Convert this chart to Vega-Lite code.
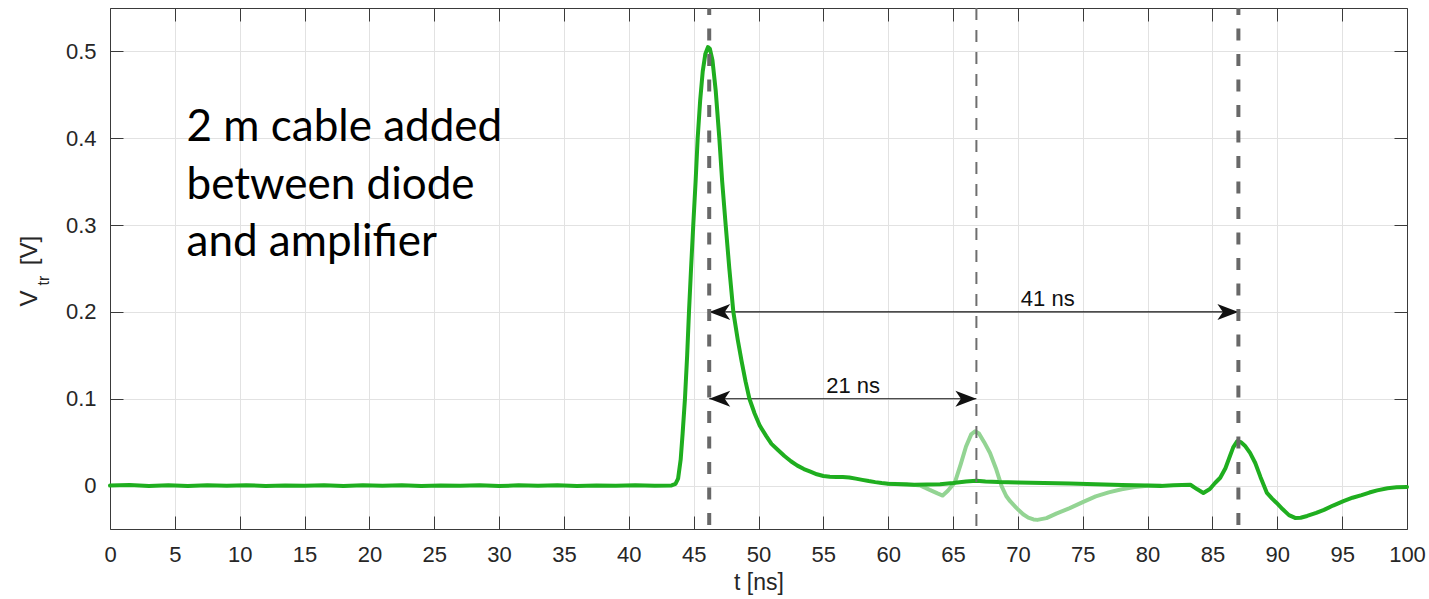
{
  "$schema": "https://vega.github.io/schema/vega-lite/v6.json",
  "width": 1297,
  "height": 521,
  "autosize": {"type": "none"},
  "padding": {"left": 110, "top": 8, "right": 22, "bottom": 70},
  "background": "white",
  "config": {
    "view": {"stroke": null},
    "font": "Liberation Sans",
    "axis": {
      "domainColor": "#3a3a3a",
      "domainWidth": 1,
      "tickColor": "#3a3a3a",
      "tickWidth": 1,
      "tickSize": -13,
      "gridColor": "#e2e2e2",
      "gridWidth": 1,
      "labelFont": "Liberation Sans",
      "labelFontSize": 22,
      "labelColor": "#262626",
      "labelFlush": false,
      "labelOverlap": false,
      "titleFont": "Liberation Sans",
      "titleFontSize": 23,
      "titleFontWeight": "normal",
      "titleColor": "#262626"
    }
  },
  "datasets": {
    "main": [
      {"t": 0, "v": 0}, {"t": 1.5, "v": 0.0006}, {"t": 3, "v": -0.0004}, {"t": 4.5, "v": 0.0003},
      {"t": 6, "v": -0.0005}, {"t": 7.5, "v": 0.0004}, {"t": 9, "v": -0.0002}, {"t": 10.5, "v": 0.0005},
      {"t": 12, "v": -0.0004}, {"t": 13.5, "v": 0.0002}, {"t": 15, "v": -0.0003}, {"t": 16.5, "v": 0.0004},
      {"t": 18, "v": -0.0005}, {"t": 19.5, "v": 0.0003}, {"t": 21, "v": -0.0002}, {"t": 22.5, "v": 0.0005},
      {"t": 24, "v": -0.0004}, {"t": 25.5, "v": 0.0002}, {"t": 27, "v": -0.0003}, {"t": 28.5, "v": 0.0004},
      {"t": 30, "v": -0.0005}, {"t": 31.5, "v": 0.0003}, {"t": 33, "v": -0.0002}, {"t": 34.5, "v": 0.0005},
      {"t": 36, "v": -0.0004}, {"t": 37.5, "v": 0.0002}, {"t": 39, "v": -0.0003}, {"t": 40.5, "v": 0.0004},
      {"t": 42, "v": -0.0003}, {"t": 43.3, "v": 0.0002},
      {"t": 43.6, "v": 0.002}, {"t": 43.8, "v": 0.008}, {"t": 44.0, "v": 0.03}, {"t": 44.15, "v": 0.06},
      {"t": 44.33, "v": 0.1}, {"t": 44.5, "v": 0.15}, {"t": 44.64, "v": 0.2}, {"t": 44.8, "v": 0.25},
      {"t": 44.97, "v": 0.3}, {"t": 45.15, "v": 0.35}, {"t": 45.31, "v": 0.4}, {"t": 45.5, "v": 0.443},
      {"t": 45.7, "v": 0.477}, {"t": 45.9, "v": 0.497}, {"t": 46.1, "v": 0.505}, {"t": 46.25, "v": 0.503},
      {"t": 46.45, "v": 0.49}, {"t": 46.7, "v": 0.455}, {"t": 46.98, "v": 0.4}, {"t": 47.2, "v": 0.35},
      {"t": 47.47, "v": 0.3}, {"t": 47.75, "v": 0.25}, {"t": 48.06, "v": 0.2}, {"t": 48.4, "v": 0.168},
      {"t": 48.7, "v": 0.143}, {"t": 49.0, "v": 0.12}, {"t": 49.3, "v": 0.1}, {"t": 49.7, "v": 0.083},
      {"t": 50.1, "v": 0.069}, {"t": 50.6, "v": 0.057}, {"t": 51.0, "v": 0.048}, {"t": 51.5, "v": 0.041},
      {"t": 52, "v": 0.034}, {"t": 52.5, "v": 0.028}, {"t": 53, "v": 0.023}, {"t": 53.5, "v": 0.019},
      {"t": 54, "v": 0.016}, {"t": 54.5, "v": 0.013}, {"t": 55, "v": 0.011}, {"t": 55.5, "v": 0.0102},
      {"t": 56, "v": 0.0099}, {"t": 56.5, "v": 0.0098}, {"t": 57, "v": 0.0094}, {"t": 57.5, "v": 0.008},
      {"t": 58, "v": 0.0066}, {"t": 58.5, "v": 0.0052}, {"t": 59, "v": 0.004}, {"t": 59.5, "v": 0.003},
      {"t": 60, "v": 0.0022}, {"t": 61, "v": 0.0015}, {"t": 62, "v": 0.001}, {"t": 63, "v": 0.0012},
      {"t": 64, "v": 0.0016}, {"t": 65, "v": 0.003}, {"t": 66, "v": 0.0048}, {"t": 66.8, "v": 0.0055},
      {"t": 67.5, "v": 0.0047}, {"t": 68.5, "v": 0.004}, {"t": 70, "v": 0.0035}, {"t": 72, "v": 0.003},
      {"t": 74, "v": 0.0024}, {"t": 76, "v": 0.0015}, {"t": 78, "v": 0.0008}, {"t": 80, "v": 0},
      {"t": 81, "v": -0.0005}, {"t": 82, "v": 0.0005}, {"t": 83.3, "v": 0.001}, {"t": 83.8, "v": -0.004},
      {"t": 84.3, "v": -0.0085}, {"t": 84.8, "v": -0.004}, {"t": 85.2, "v": 0.003}, {"t": 85.6, "v": 0.009},
      {"t": 86.0, "v": 0.02}, {"t": 86.35, "v": 0.034}, {"t": 86.6, "v": 0.044}, {"t": 86.9, "v": 0.051},
      {"t": 87.2, "v": 0.05}, {"t": 87.5, "v": 0.046}, {"t": 87.9, "v": 0.0376}, {"t": 88.3, "v": 0.026},
      {"t": 88.7, "v": 0.01}, {"t": 89.2, "v": -0.0085}, {"t": 89.6, "v": -0.015}, {"t": 89.95, "v": -0.02},
      {"t": 90.4, "v": -0.027}, {"t": 90.9, "v": -0.034}, {"t": 91.37, "v": -0.0372}, {"t": 91.8, "v": -0.037},
      {"t": 92.3, "v": -0.035}, {"t": 93.0, "v": -0.0315}, {"t": 93.6, "v": -0.028}, {"t": 94.3, "v": -0.023},
      {"t": 95.1, "v": -0.018}, {"t": 95.8, "v": -0.014}, {"t": 96.5, "v": -0.011}, {"t": 97.1, "v": -0.008},
      {"t": 97.7, "v": -0.0055}, {"t": 98.5, "v": -0.003}, {"t": 99.2, "v": -0.002}, {"t": 100, "v": -0.0015}
    ],
    "reflection": [
      {"t": 60, "v": 0.0022}, {"t": 61.5, "v": 0.0014}, {"t": 62.5, "v": 0.0}, {"t": 63.2, "v": -0.005},
      {"t": 63.8, "v": -0.009}, {"t": 64.2, "v": -0.0115}, {"t": 64.6, "v": -0.006}, {"t": 65.15, "v": 0.004},
      {"t": 65.6, "v": 0.025}, {"t": 66.0, "v": 0.045}, {"t": 66.4, "v": 0.059}, {"t": 66.7, "v": 0.0626},
      {"t": 67.0, "v": 0.06}, {"t": 67.4, "v": 0.05}, {"t": 67.85, "v": 0.0376}, {"t": 68.3, "v": 0.02},
      {"t": 68.75, "v": -0.001}, {"t": 69.1, "v": -0.012}, {"t": 69.4, "v": -0.018}, {"t": 69.9, "v": -0.026},
      {"t": 70.4, "v": -0.033}, {"t": 70.8, "v": -0.037}, {"t": 71.2, "v": -0.039}, {"t": 71.5, "v": -0.0395},
      {"t": 72.2, "v": -0.0375}, {"t": 73, "v": -0.032}, {"t": 74, "v": -0.026}, {"t": 75, "v": -0.019},
      {"t": 76, "v": -0.0125}, {"t": 77, "v": -0.0078}, {"t": 78, "v": -0.0042}, {"t": 79, "v": -0.0016},
      {"t": 80, "v": -0.0003}, {"t": 81, "v": 0}
    ],
    "markers": [
      {"t": 46.2, "kind": "pulse"},
      {"t": 87.0, "kind": "pulse"},
      {"t": 66.8, "kind": "reflection"}
    ],
    "spans": [
      {"t": 46.2, "t2": 87.0, "v": 0.2, "lt": 72.3, "lv": 0.207, "label": "41 ns"},
      {"t": 46.2, "t2": 66.8, "v": 0.1, "lt": 57.3, "lv": 0.107, "label": "21 ns"}
    ],
    "heads": [
      {"t": 46.2, "v": 0.2, "dir": "left"},
      {"t": 87.0, "v": 0.2, "dir": "right"},
      {"t": 46.2, "v": 0.1, "dir": "left"},
      {"t": 66.8, "v": 0.1, "dir": "right"}
    ],
    "note": [
      {"t": 5.9, "v": 0.397, "text": "2 m cable added"},
      {"t": 5.9, "v": 0.3303, "text": "between diode"},
      {"t": 5.9, "v": 0.2645, "text": "and amplifier"}
    ]
  },
  "layer": [
    {
      "data": {"name": "spans"},
      "mark": {"type": "rule", "color": "#111111", "strokeWidth": 1.2},
      "encoding": {
        "x": {"field": "t", "type": "quantitative", "scale": {"domain": [0, 100], "nice": false, "zero": false}, "axis": {"orient": "top", "values": [0, 5, 10, 15, 20, 25, 30, 35, 40, 45, 50, 55, 60, 65, 70, 75, 80, 85, 90, 95, 100], "labels": false, "grid": false, "title": null}},
        "x2": {"field": "t2"},
        "y": {"field": "v", "type": "quantitative", "scale": {"domain": [-0.05, 0.55], "nice": false, "zero": false}, "axis": {"orient": "right", "values": [0, 0.1, 0.2, 0.3, 0.4, 0.5], "labels": false, "grid": false, "title": null}}
      }
    },
    {
      "data": {"name": "reflection"},
      "mark": {"type": "line", "color": "#93d493", "strokeWidth": 4, "strokeJoin": "round", "strokeCap": "round"},
      "encoding": {
        "x": {"field": "t", "type": "quantitative", "scale": {"domain": [0, 100], "nice": false, "zero": false}, "axis": {"orient": "bottom", "values": [0, 5, 10, 15, 20, 25, 30, 35, 40, 45, 50, 55, 60, 65, 70, 75, 80, 85, 90, 95, 100], "grid": true, "labelPadding": 28, "title": "t [ns]", "titlePadding": 6}},
        "y": {"field": "v", "type": "quantitative", "scale": {"domain": [-0.05, 0.55], "nice": false, "zero": false}, "axis": {"orient": "left", "values": [0, 0.1, 0.2, 0.3, 0.4, 0.5], "grid": true, "format": "~g", "labelPadding": 27, "title": null}}
      }
    },
    {
      "data": {"name": "main"},
      "mark": {"type": "line", "color": "#1fae1f", "strokeWidth": 4, "strokeJoin": "round", "strokeCap": "round"},
      "encoding": {
        "x": {"field": "t", "type": "quantitative", "scale": {"domain": [0, 100], "nice": false, "zero": false}, "axis": null},
        "y": {"field": "v", "type": "quantitative", "scale": {"domain": [-0.05, 0.55], "nice": false, "zero": false}, "axis": null}
      }
    },
    {
      "data": {"name": "heads"},
      "transform": [{"filter": "datum.dir === 'left'"}],
      "mark": {"type": "point", "shape": "M 0 0 L 2.1 -0.8 L 1.55 0 L 2.1 0.8 Z", "size": 400, "filled": true, "color": "#111111", "opacity": 1},
      "encoding": {
        "x": {"field": "t", "type": "quantitative", "axis": null},
        "y": {"field": "v", "type": "quantitative", "axis": null}
      }
    },
    {
      "data": {"name": "heads"},
      "transform": [{"filter": "datum.dir === 'right'"}],
      "mark": {"type": "point", "shape": "M 0 0 L -2.1 -0.8 L -1.55 0 L -2.1 0.8 Z", "size": 400, "filled": true, "color": "#111111", "opacity": 1},
      "encoding": {
        "x": {"field": "t", "type": "quantitative", "axis": null},
        "y": {"field": "v", "type": "quantitative", "axis": null}
      }
    },
    {
      "data": {"name": "markers"},
      "transform": [{"filter": "datum.kind === 'pulse'"}],
      "mark": {"type": "rule", "color": "#686868", "strokeWidth": 4, "strokeDash": [12, 13.5], "strokeDashOffset": 5},
      "encoding": {
        "x": {"field": "t", "type": "quantitative", "axis": null}
      }
    },
    {
      "data": {"name": "markers"},
      "transform": [{"filter": "datum.kind === 'reflection'"}],
      "mark": {"type": "rule", "color": "#6e6e6e", "strokeWidth": 2, "strokeDash": [12, 10]},
      "encoding": {
        "x": {"field": "t", "type": "quantitative", "axis": null}
      }
    },
    {
      "data": {"name": "spans"},
      "mark": {"type": "text", "fontSize": 22, "align": "center", "baseline": "alphabetic", "color": "#111111"},
      "encoding": {
        "x": {"field": "lt", "type": "quantitative", "axis": null},
        "y": {"field": "lv", "type": "quantitative", "axis": null},
        "text": {"field": "label"}
      }
    },
    {
      "data": {"name": "note"},
      "mark": {"type": "text", "font": "Lato", "fontSize": 44, "align": "left", "baseline": "alphabetic", "color": "#000000"},
      "encoding": {
        "x": {"field": "t", "type": "quantitative", "axis": null},
        "y": {"field": "v", "type": "quantitative", "axis": null},
        "text": {"field": "text"}
      }
    },
    {
      "data": {"values": [{"v": 0.2154, "text": "V"}, {"v": 0.2707, "text": "[V]"}]},
      "mark": {"type": "text", "angle": 270, "dy": -80, "fontSize": 24, "align": "center", "baseline": "middle", "color": "#262626"},
      "encoding": {
        "x": {"datum": 0, "type": "quantitative", "axis": null},
        "y": {"field": "v", "type": "quantitative", "axis": null},
        "text": {"field": "text"}
      }
    },
    {
      "data": {"values": [{"v": 0.236, "text": "tr"}]},
      "mark": {"type": "text", "angle": 270, "dy": -66, "fontSize": 16, "align": "center", "baseline": "middle", "color": "#262626"},
      "encoding": {
        "x": {"datum": 0, "type": "quantitative", "axis": null},
        "y": {"field": "v", "type": "quantitative", "axis": null},
        "text": {"field": "text"}
      }
    }
  ],
  "resolve": {"axis": {"x": "independent", "y": "independent"}}
}
